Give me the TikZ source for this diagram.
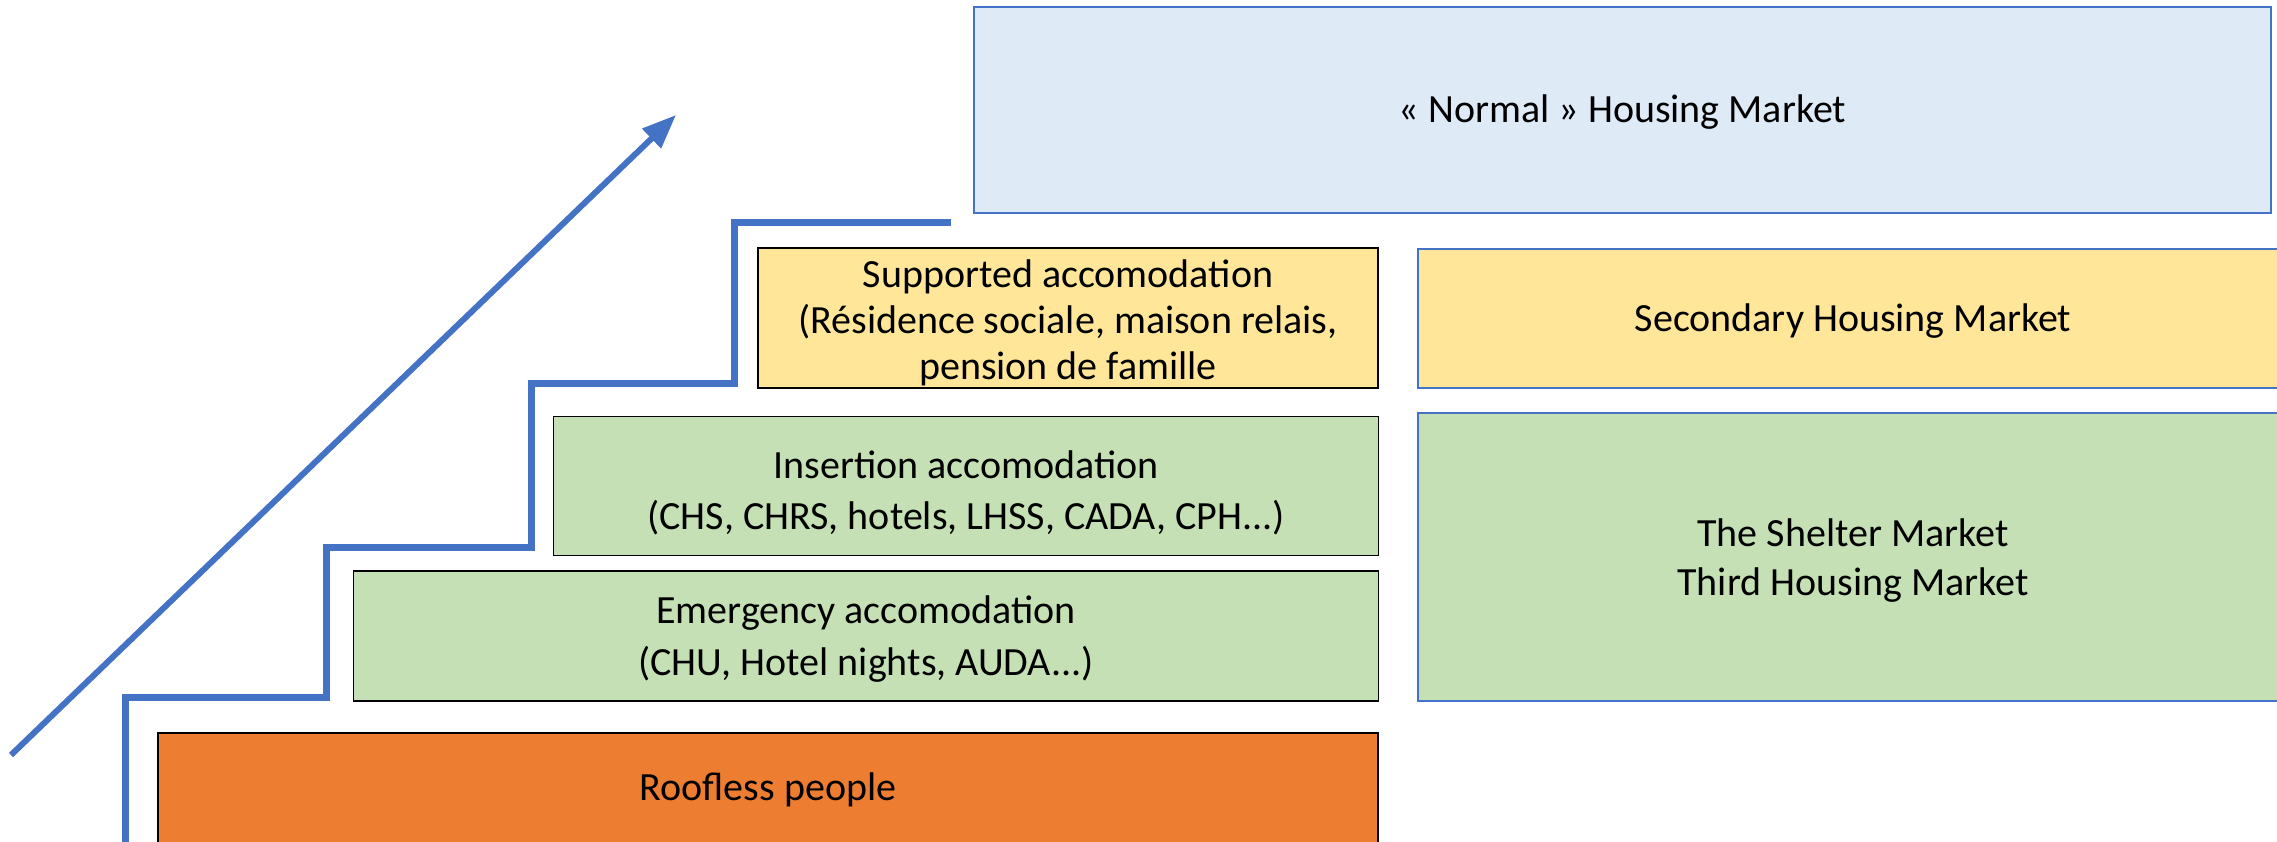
\documentclass[tikz,border=0pt]{standalone}
\usepackage{fontspec}
\setmainfont{Carlito}
\usetikzlibrary{arrows.meta}
\definecolor{bluel}{HTML}{4472C4}
\definecolor{normalfill}{HTML}{DEEBF7}
\definecolor{yellowfill}{HTML}{FFE699}
\definecolor{greenfill}{HTML}{C5E0B4}
\definecolor{orangefill}{HTML}{ED7D31}
\tikzset{
  box/.style={draw=black, line width=1.5pt, rectangle, inner sep=0pt, align=center,
    font=\fontsize{40}{48}\selectfont},
  bluebox/.style={box, draw=bluel},
  boxtext/.style={align=center, inner sep=0pt},
  stair/.style={draw=bluel, line width=7pt},
  uparrow/.style={draw=bluel, line width=6pt, -{Triangle[length=34pt, width=26pt]}}
}
\begin{document}
\begin{tikzpicture}[x=1pt, y=-1pt]
\useasboundingbox (0,0) rectangle (2277,841);
% left stack
\node[box, fill=orangefill, minimum width=1220pt, minimum height=114pt] (roof) at (768,790) {Roofless people};
\node[box, fill=greenfill, minimum width=1025pt, minimum height=130pt] (emer) at (866,636) {};
\node[boxtext, font=\fontsize{40}{52}\selectfont] (emerT) at (866,639) {Emergency accomodation\\(CHU, Hotel nights, AUDA...)};
\node[box, fill=greenfill, minimum width=825pt, minimum height=139pt] (ins) at (966,486) {};
\node[boxtext, font=\fontsize{40}{51}\selectfont] (insT) at (966,493) {Insertion accomodation\\(CHS, CHRS, hotels, LHSS, CADA, CPH...)};
\node[box, fill=yellowfill, minimum width=620pt, minimum height=140pt] (sup) at (1068,318) {};
\node[boxtext, font=\fontsize{40}{46}\selectfont] (supT) at (1068,323) {Supported accomodation\\(Résidence sociale, maison relais,\\pension de famille};
% right column
\node[bluebox, line width=2pt, fill=normalfill, minimum width=1297pt, minimum height=206pt] (normal) at (1622.5,110) {};
\node[boxtext, font=\fontsize{40}{48}\selectfont] (normalT) at (1622.5,112) {« Normal » Housing Market};
\node[bluebox, fill=yellowfill, minimum width=870pt, minimum height=139pt] (second) at (1853,318.5) {};
\node[boxtext, font=\fontsize{40}{48}\selectfont] (secondT) at (1853,321) {Secondary Housing Market};
\node[bluebox, fill=greenfill, minimum width=870pt, minimum height=288pt] (shelter) at (1853,557) {};
\node[boxtext, font=\fontsize{40}{49}\selectfont] (shelterT) at (1853,561) {The Shelter Market\\Third Housing Market};
% staircase
\coordinate (s0) at (125,845);
\coordinate (s1) at (125,697);
\coordinate (s2) at (326,697);
\coordinate (s3) at (326,547);
\coordinate (s4) at (531,547);
\coordinate (s5) at (531,383);
\coordinate (s6) at (734,383);
\coordinate (s7) at (734,222);
\coordinate (s8) at (951,222);
\draw[stair] (s0) -- (s1) -- (s2) -- (s3) -- (s4) -- (s5) -- (s6) -- (s7) -- (s8);
% arrow
\coordinate (a0) at (11,755);
\coordinate (a1) at (676,115);
\draw[uparrow] (a0) -- (a1);
\end{tikzpicture}
\end{document}
